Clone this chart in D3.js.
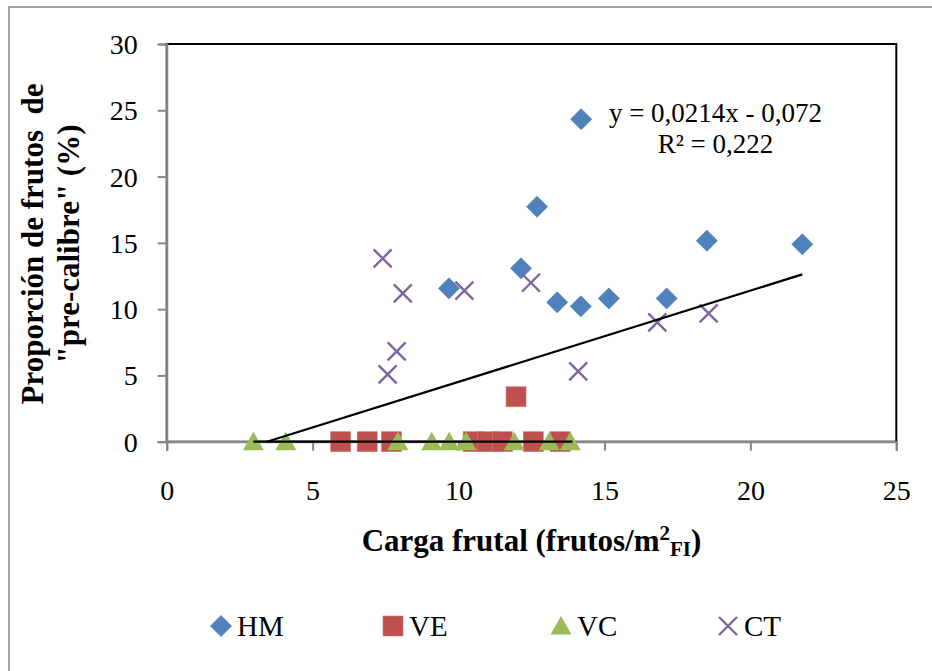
<!DOCTYPE html>
<html><head><meta charset="utf-8">
<script src="https://cdn.jsdelivr.net/npm/d3@7"></script>
<style>body{margin:0;background:#fff}svg{display:block}</style>
</head><body><svg id="c" width="932" height="671"></svg>
<script>
// ---- data ----
const xTicks = [0, 5, 10, 15, 20, 25];
const yTicks = [0, 5, 10, 15, 20, 25, 30];
const hmX = [9.67, 12.14, 12.69, 14.20, 13.38, 14.19, 15.15, 17.13, 18.51, 21.78];
const hmY = [11.57, 13.08, 17.72, 24.33, 10.51, 10.21, 10.81, 10.81, 15.16, 14.89];
const veX = [5.96, 6.87, 7.70, 10.50, 11.00, 11.50, 11.97, 12.56, 13.48];
const veY = [0, 0, 0, 0, 0, 0, 3.39, 0, 0];
const vcX = [2.97, 4.08, 7.92, 9.08, 9.68, 10.26, 11.91, 13.11, 13.83];
const vcY = [0, 0, 0, 0, 0, 0, 0, 0, 0];
const ctX = [7.40, 8.09, 10.20, 12.48, 7.88, 7.57, 14.10, 16.81, 18.57];
const ctY = [13.83, 11.19, 11.39, 11.99, 6.82, 5.08, 5.31, 9.00, 9.68];
const trendAllX = [3.43, 21.78];
const trendAllY = [0, 12.62];
const trendVcX = [2.97, 13.90];
const trendVcY = [0, 0];
const seriesNames = ["HM", "VE", "VC", "CT"];
const eqLines = ["y = 0,0214x - 0,072", "R² = 0,222"];

// ---- drawing ----
const svg = d3.select("#c");
const serif = "'Liberation Serif','Times New Roman',serif";
const x = d3.scaleLinear().domain([0, 25]).range([166.7, 896.3]);
const y = d3.scaleLinear().domain([0, 30]).range([441.7, 44]);
const colors = {HM: "#4F81BD", VE: "#C0504D", VC: "#9BBB59", CT: "#8064A2"};

// outer chart border
svg.append("rect").attr("x", 9).attr("y", 7).attr("width", 940).attr("height", 690)
  .attr("fill", "none").attr("stroke", "#8e8e8e").attr("stroke-width", 1.6);

// plot area border
svg.append("rect").attr("x", x(0)).attr("y", y(30)).attr("width", x(25) - x(0)).attr("height", y(0) - y(30))
  .attr("fill", "none").attr("stroke", "#000").attr("stroke-width", 2);

// axes
const gy = svg.append("g").attr("transform", `translate(${x(0)},0)`)
  .call(d3.axisLeft(y).tickValues(yTicks).tickSize(9).tickPadding(20).tickFormat(d3.format("d")));
const gx = svg.append("g").attr("transform", `translate(0,${y(0)})`)
  .call(d3.axisBottom(x).tickValues(xTicks).tickSize(9).tickFormat(d3.format("d")));
[gx, gy].forEach(g => {
  g.select(".domain").attr("stroke", "#868686").attr("stroke-width", 2.2);
  g.selectAll(".tick line").attr("stroke", "#868686").attr("stroke-width", 2);
  g.selectAll(".tick text").attr("font-family", serif).attr("font-size", 28).attr("fill", "#000");
});
gy.selectAll(".tick text").attr("dy", "0.34em");
gx.selectAll(".tick text").attr("y", 58).attr("dy", 0);

// marker shapes
function diamond(sel, c) {
  sel.append("path").attr("d", "M0,-10.5L10.5,0L0,10.5L-10.5,0Z").attr("fill", c)
    .attr("stroke", c).attr("stroke-width", 0.8).attr("stroke-linejoin", "round");
}
function square(sel, c) {
  sel.append("rect").attr("x", -10).attr("y", -10).attr("width", 20).attr("height", 20)
    .attr("fill", c).attr("stroke", "#d27c79").attr("stroke-width", 0.6);
}
function triangle(sel, c) {
  sel.append("path").attr("d", "M0,-10L10.5,8.5L-10.5,8.5Z").attr("fill", c);
}
function cross(sel, c) {
  sel.append("path").attr("d", "M-9,-9L9,9M-9,9L9,-9").attr("stroke", c)
    .attr("stroke-width", 2.4).attr("fill", "none");
}
const shapeOf = {HM: diamond, VE: square, VC: triangle, CT: cross};

function drawSeries(name, xs, ys) {
  const g = svg.append("g");
  xs.forEach((xv, i) => {
    const m = g.append("g").attr("transform", `translate(${x(xv)},${y(ys[i])})`);
    shapeOf[name](m, colors[name]);
  });
}
drawSeries("HM", hmX, hmY);
drawSeries("VE", veX, veY);
drawSeries("VC", vcX, vcY);
drawSeries("CT", ctX, ctY);

// trendlines
const line = d3.line().x(d => x(d[0])).y(d => y(d[1]));
svg.append("path").attr("d", line(trendAllX.map((v, i) => [v, trendAllY[i]])))
  .attr("stroke", "#000").attr("stroke-width", 2.2).attr("fill", "none");
svg.append("path").attr("d", line(trendVcX.map((v, i) => [v, trendVcY[i]])))
  .attr("stroke", "#000").attr("stroke-width", 2.2).attr("fill", "none");

// equation
svg.append("text").attr("x", 715.5).attr("y", 121.5).attr("text-anchor", "middle")
  .attr("font-family", serif).attr("font-size", 27).text(eqLines[0]);
svg.append("text").attr("x", 715.5).attr("y", 153).attr("text-anchor", "middle")
  .attr("font-family", serif).attr("font-size", 27).text(eqLines[1]);

// x title
const xt = svg.append("text").attr("x", 531.5).attr("y", 551).attr("text-anchor", "middle")
  .attr("font-family", serif).attr("font-size", 31).attr("font-weight", "bold");
xt.append("tspan").text("Carga frutal (frutos/m");
xt.append("tspan").attr("font-size", 21).attr("dy", -11).text("2");
xt.append("tspan").attr("font-size", 21).attr("dy", 16).text("FI");
xt.append("tspan").attr("dy", -5).text(")");

// y title
const yt = svg.append("text").attr("transform", "translate(0,244) rotate(-90)")
  .attr("text-anchor", "middle").attr("font-family", serif).attr("font-size", 31).attr("font-weight", "bold");
yt.append("tspan").attr("x", 0).attr("y", 43).style("white-space", "pre").text("Proporción de frutos  de");
yt.append("tspan").attr("x", 0).attr("y", 79).text("\"pre-calibre\" (%)");

// legend
const legX = [221, 393, 561, 728];
seriesNames.forEach((n, i) => {
  const m = svg.append("g").attr("transform", `translate(${legX[i]},626)`);
  shapeOf[n](m, colors[n]);
  svg.append("text").attr("x", legX[i] + 16).attr("y", 636).attr("font-family", serif)
    .attr("font-size", 29).text(n);
});
</script></body></html>
